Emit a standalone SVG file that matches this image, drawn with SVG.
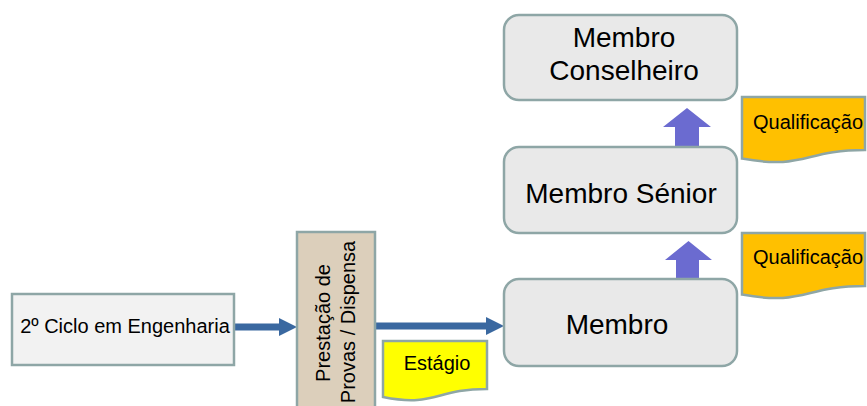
<svg xmlns="http://www.w3.org/2000/svg" width="867" height="406" viewBox="0 0 867 406">
<style>
text{font-family:"Liberation Sans",Arial,sans-serif;fill:#000}
.rbox{fill:#e9e9e9;stroke:#8ea6a6;stroke-width:2.5}
.sbox{fill:#f2f2f2;stroke:#8ea6a6;stroke-width:2.5}
.prov{fill:#dccfbb;stroke:#8ea6a6;stroke-width:2.5}
.doc{stroke:#8ea6a6;stroke-width:2.5}
.big{font-size:28px}
.mid{font-size:20px}
.conn{stroke:#3a68a0;stroke-width:7;fill:none}
.up{fill:#6b6bd0}
</style>
<defs>
<marker id="ah" markerUnits="userSpaceOnUse" markerWidth="20" markerHeight="20" viewBox="0 0 20 20" refX="0" refY="10" orient="auto">
<path d="M0,1 L18,10 L0,19 Z" fill="#3a68a0"/>
</marker>
</defs>
<g id="connectors">
<line class="conn" x1="234" y1="327" x2="279" y2="327" marker-end="url(#ah)"/>
<line class="conn" x1="375" y1="326" x2="486" y2="326" marker-end="url(#ah)"/>
<polygon class="up" points="676,279 676,260 665,260 688.5,241 712,260 699,260 699,279"/>
<polygon class="up" points="675,147 675,127 663,127 687,108 711,127 699,127 699,147"/>
</g>
<g id="node-ciclo">
<rect class="sbox" x="12" y="294" width="222" height="71"/>
<text class="mid" x="125" y="333" text-anchor="middle">2º Ciclo em Engenharia</text>
</g>
<g id="node-provas">
<rect class="prov" x="297" y="232" width="78" height="180"/>
<text class="mid" transform="translate(330,323) rotate(-90)" text-anchor="middle" font-size="19">Prestação de</text>
<text class="mid" transform="translate(355,322) rotate(-90)" text-anchor="middle" font-size="19">Provas / Dispensa</text>
</g>
<g id="node-estagio">
<path class="doc" fill="#ffff00" d="M383,341 H487 V389 C435,389 435,407.4 383,397 Z"/>
<text class="mid" x="437" y="370" text-anchor="middle">Estágio</text>
</g>
<g id="node-membro">
<rect class="rbox" x="504" y="279" width="233" height="87" rx="15"/>
<text class="big" x="617" y="334" text-anchor="middle">Membro</text>
</g>
<g id="node-senior">
<rect class="rbox" x="504" y="147" width="233" height="86" rx="15"/>
<text class="big" x="621" y="203" text-anchor="middle">Membro Sénior</text>
</g>
<g id="node-conselheiro">
<rect class="rbox" x="504" y="15" width="233" height="85" rx="15"/>
<text class="big" x="624" y="47" text-anchor="middle">Membro</text>
<text class="big" x="624" y="80" text-anchor="middle">Conselheiro</text>
</g>
<g id="node-qual1">
<path class="doc" fill="#ffc000" d="M742,97 H865 V150 C804,150 804,170 742,158.6 Z"/>
<text class="mid" x="808" y="129" text-anchor="middle">Qualificação</text>
</g>
<g id="node-qual2">
<path class="doc" fill="#ffc000" d="M742,233 H865 V286 C804,286 804,306 742,294.6 Z"/>
<text class="mid" x="808" y="264" text-anchor="middle">Qualificação</text>
</g>
</svg>
